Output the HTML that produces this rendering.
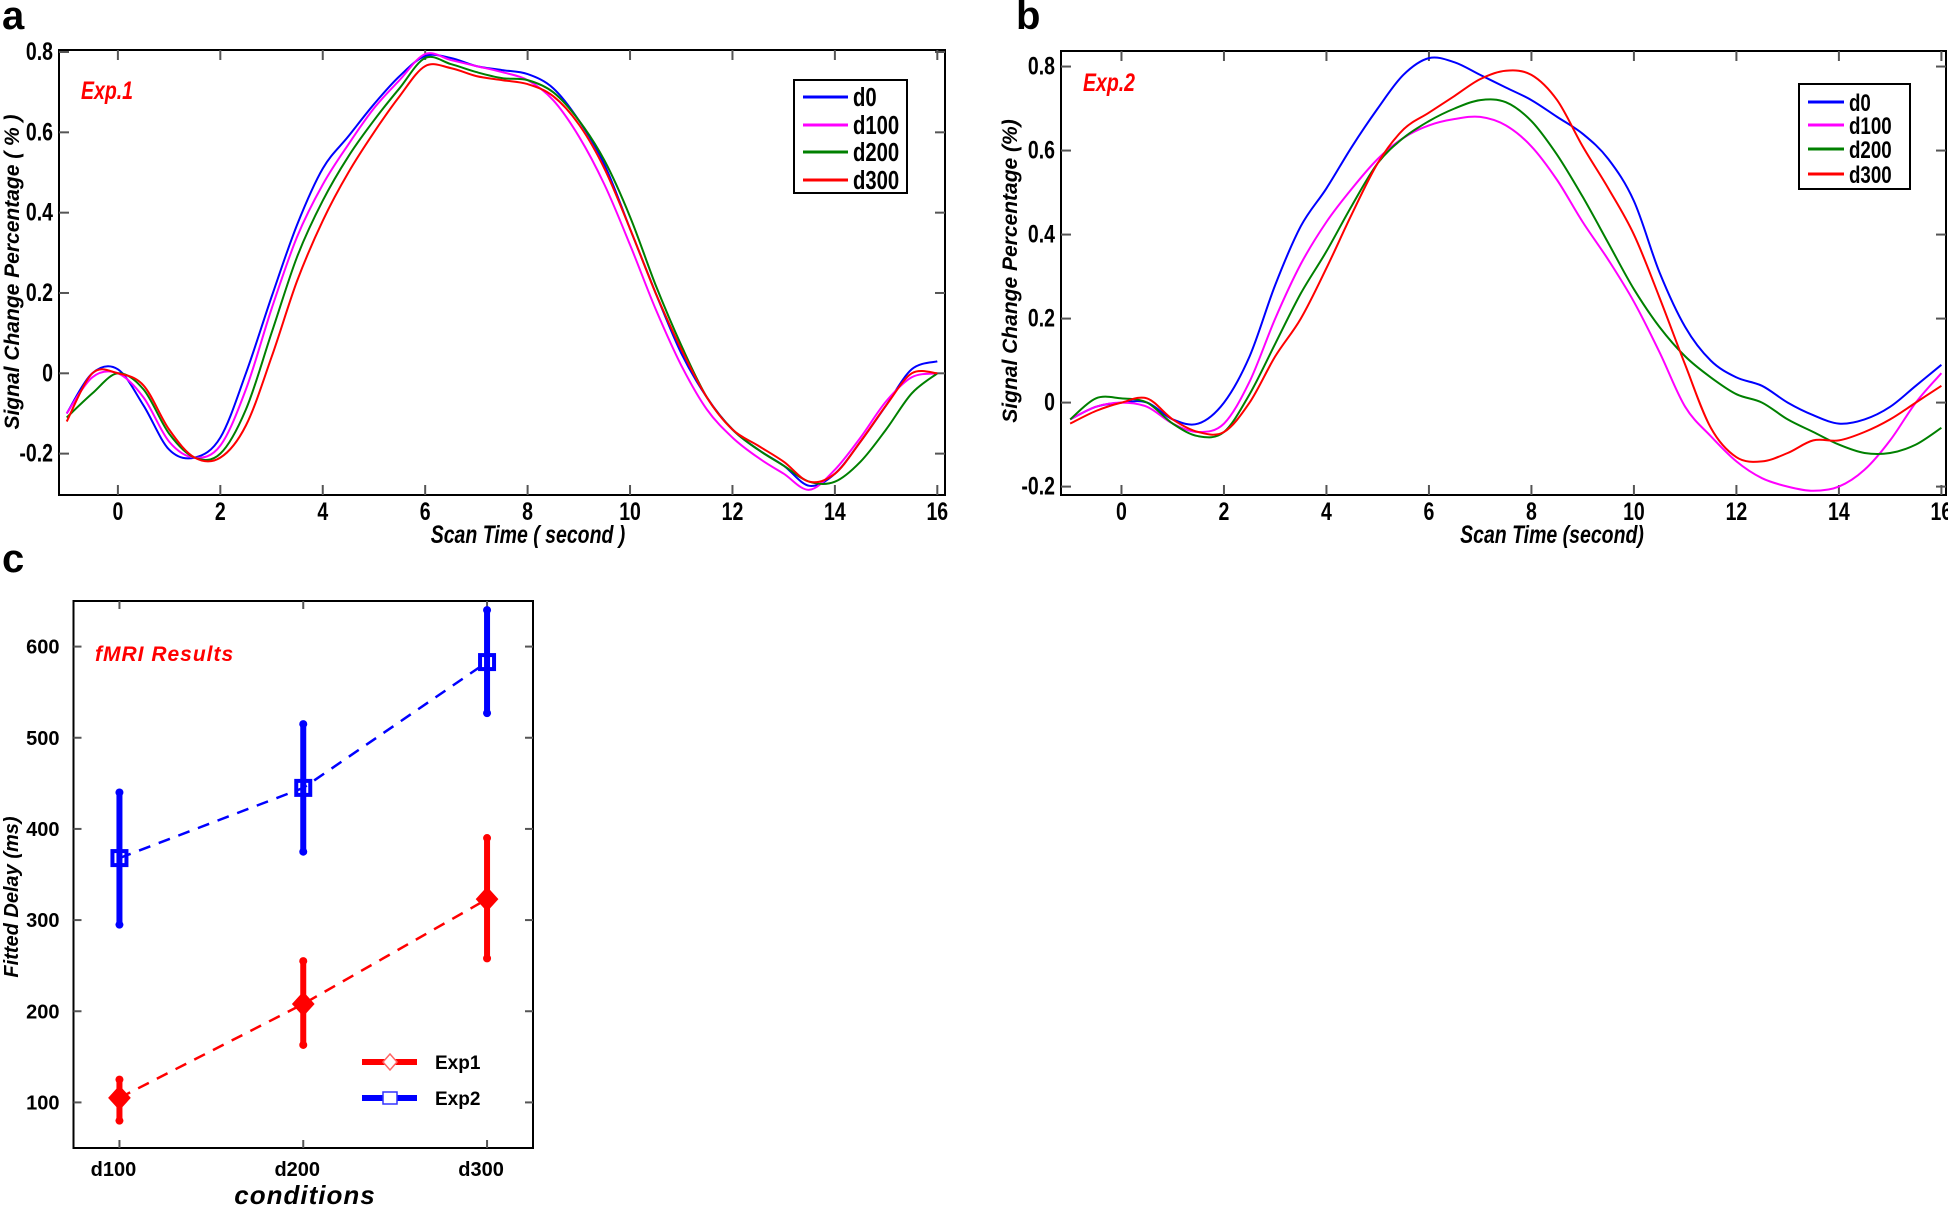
<!DOCTYPE html>
<html><head><meta charset="utf-8"><style>
html,body{margin:0;padding:0;background:#fff;}
svg{display:block;font-family:"Liberation Sans",sans-serif;}
</style></head><body>
<svg id="fig" width="1948" height="1205" viewBox="0 0 1948 1205"></svg>
<script>
const tA = [-1,-0.5,0,0.5,1,1.5,2,2.5,3,3.5,4,4.5,5,5.5,6,6.5,7,7.5,8,8.5,9,9.5,10,10.5,11,11.5,12,12.5,13,13.5,14,14.5,15,15.5,16];
const seriesNames = ['d0','d100','d200','d300'];
const seriesColors = ['#0000ff','#ff00ff','#008000','#ff0000'];
const a_d0 = [-0.1,0.0,0.01,-0.08,-0.19,-0.21,-0.16,0.0,0.19,0.37,0.51,0.59,0.67,0.74,0.79,0.785,0.765,0.755,0.745,0.71,0.63,0.52,0.36,0.2,0.05,-0.06,-0.14,-0.19,-0.23,-0.28,-0.25,-0.17,-0.08,0.01,0.03];
const a_d100 = [-0.1,-0.01,0.0,-0.06,-0.17,-0.21,-0.18,-0.04,0.16,0.34,0.47,0.57,0.66,0.73,0.795,0.78,0.765,0.75,0.73,0.68,0.59,0.47,0.32,0.16,0.02,-0.09,-0.16,-0.21,-0.25,-0.29,-0.24,-0.16,-0.07,-0.01,0.0];
const a_d200 = [-0.11,-0.05,0.0,-0.04,-0.15,-0.21,-0.2,-0.09,0.1,0.29,0.43,0.54,0.63,0.71,0.785,0.77,0.75,0.735,0.73,0.7,0.63,0.53,0.39,0.22,0.07,-0.06,-0.14,-0.19,-0.23,-0.27,-0.27,-0.22,-0.14,-0.05,0.0];
const a_d300 = [-0.12,0.0,0.0,-0.03,-0.14,-0.21,-0.21,-0.13,0.04,0.23,0.38,0.5,0.6,0.69,0.765,0.76,0.74,0.73,0.72,0.69,0.62,0.51,0.36,0.2,0.06,-0.06,-0.14,-0.18,-0.22,-0.27,-0.25,-0.17,-0.08,0.0,0.0];
const b_d0 = [-0.04,-0.01,0.0,0.0,-0.04,-0.05,0.0,0.11,0.28,0.42,0.51,0.61,0.7,0.78,0.82,0.81,0.78,0.75,0.72,0.68,0.64,0.58,0.48,0.31,0.18,0.1,0.06,0.04,0.0,-0.03,-0.05,-0.04,-0.01,0.04,0.09];
const b_d100 = [-0.04,-0.01,0.0,-0.01,-0.05,-0.07,-0.05,0.05,0.2,0.33,0.43,0.51,0.58,0.63,0.66,0.675,0.68,0.66,0.61,0.53,0.43,0.34,0.24,0.12,-0.01,-0.08,-0.14,-0.18,-0.2,-0.21,-0.2,-0.16,-0.09,0.0,0.07];
const b_d200 = [-0.04,0.01,0.01,0.0,-0.05,-0.08,-0.07,0.02,0.14,0.26,0.36,0.47,0.57,0.63,0.67,0.7,0.72,0.715,0.67,0.59,0.49,0.38,0.27,0.18,0.11,0.06,0.02,0.0,-0.04,-0.07,-0.1,-0.12,-0.12,-0.1,-0.06];
const b_d300 = [-0.05,-0.02,0.0,0.01,-0.04,-0.07,-0.07,0.0,0.11,0.2,0.32,0.45,0.57,0.65,0.69,0.73,0.77,0.79,0.78,0.72,0.61,0.51,0.4,0.25,0.09,-0.06,-0.13,-0.14,-0.12,-0.09,-0.09,-0.07,-0.04,0.0,0.04];
const xTicks = [0,2,4,6,8,10,12,14,16];
const aYTicks = [-0.2,0,0.2,0.4,0.6,0.8];
const aYLabels = ['-0.2','0','0.2','0.4','0.6','0.8'];
const cCats = ['d100','d200','d300'];
const cExp1 = [105,208,323];
const cExp1Lo = [80,163,258];
const cExp1Hi = [125,255,390];
const cExp2 = [368,445,583];
const cExp2Lo = [295,375,527];
const cExp2Hi = [440,515,640];
const cYTicks = [100,200,300,400,500,600];

const NS='http://www.w3.org/2000/svg';
const svg=document.getElementById('fig');
function el(tag,attrs,parent,text){const e=document.createElementNS(NS,tag);for(const k in attrs)e.setAttribute(k,attrs[k]);if(text!==undefined)e.textContent=text;(parent||svg).appendChild(e);return e;}
function ntext(x,y,attrs,parent,text){attrs=Object.assign({x:0,y:0,transform:'translate('+x+','+y+') scale(0.78,1)'},attrs);return el('text',attrs,parent,text);}
function lin(d0,d1,r0,r1){return v=>r0+(v-d0)/(d1-d0)*(r1-r0);}
function smooth(pts){let d='M'+pts[0][0].toFixed(1)+','+pts[0][1].toFixed(1);for(let i=0;i<pts.length-1;i++){const p0=pts[Math.max(0,i-1)],p1=pts[i],p2=pts[i+1],p3=pts[Math.min(pts.length-1,i+2)];const c1=[p1[0]+(p2[0]-p0[0])/6,p1[1]+(p2[1]-p0[1])/6],c2=[p2[0]-(p3[0]-p1[0])/6,p2[1]-(p3[1]-p1[1])/6];d+='C'+c1[0].toFixed(1)+','+c1[1].toFixed(1)+' '+c2[0].toFixed(1)+','+c2[1].toFixed(1)+' '+p2[0].toFixed(1)+','+p2[1].toFixed(1);}return d;}

function linePanel(o){
  const g=el('g',{});
  
  
  const X=lin(o.xmin,o.xmax,o.L,o.R), Y=lin(o.ymin,o.ymax,o.B,o.T);
  el('rect',{x:o.L,y:o.T,width:o.R-o.L,height:o.B-o.T,fill:'#fff',stroke:'#000','stroke-width':2},g);
  xTicks.forEach(t=>{const x=X(t);
    el('line',{x1:x,y1:o.B,x2:x,y2:o.B-10,stroke:'#555','stroke-width':2},g);
    el('line',{x1:x,y1:o.T,x2:x,y2:o.T+10,stroke:'#555','stroke-width':2},g);
    const tx=ntext(x,o.B+25,{'text-anchor':'middle','font-size':25,'font-weight':'bold'},g,String(t));
    
    
  });
  o.yTicks.forEach((t,i)=>{const y=Y(t);
    el('line',{x1:o.L,y1:y,x2:o.L+10,y2:y,stroke:'#555','stroke-width':2},g);
    el('line',{x1:o.R,y1:y,x2:o.R-10,y2:y,stroke:'#555','stroke-width':2},g);
    const tx=ntext(o.L-6,y+8,{'text-anchor':'end','font-size':25,'font-weight':'bold'},g,o.yLabels[i]);
    
    
  });
  o.series.forEach((s,i)=>{
    const p=el('path',{d:smooth(tA.map((t,j)=>[X(t),Y(s[j])])),fill:'none',stroke:seriesColors[i],'stroke-width':2},g);
    
    
  });
  const lg=el('g',{},g);
  
  
  el('rect',{x:o.lg[0],y:o.lg[1],width:o.lg[2],height:o.lg[3],fill:'#fff',stroke:'#000','stroke-width':2},lg);
  seriesNames.forEach((n,i)=>{const y=o.lgY[i];
    el('line',{x1:o.lg[0]+9,y1:y,x2:o.lg[0]+o.lgLine,y2:y,stroke:seriesColors[i],'stroke-width':3},lg);
    const tx=ntext(o.lg[0]+o.lgLine+5,y+9,{'font-size':o.lgFont,'font-weight':'bold'},lg,n);
    
    
  });
  const ti=ntext(o.exp[0],o.exp[1],{'font-size':25,'font-weight':'bold','font-style':'italic',fill:'#ff0000'},g,o.expText);
  
  
  const xl=ntext(o.xl[0],o.xl[1],{'text-anchor':'middle','font-size':25,'font-weight':'bold','font-style':'italic'},g,o.xlText);
  
  
  const yl=el('text',{x:0,y:0,'text-anchor':'middle','font-size':21,'font-weight':'bold','font-style':'italic',transform:'translate('+o.yl[0]+','+o.yl[1]+') rotate(-90)'},g,o.ylText);
  
  
  const pl=el('text',{x:o.pl[0],y:o.pl[1],'font-size':40,'font-weight':'bold'},g,o.plText);
  
  
}

linePanel({name:'panel-a',L:59,R:945,T:50,B:495,xmin:-1.15,xmax:16.15,ymin:-0.303,ymax:0.805,
  yTicks:aYTicks,yLabels:aYLabels,series:[a_d0,a_d100,a_d200,a_d300],
  lg:[794,80,113,113],lgY:[97,125,152,180],lgLine:54,lgFont:26,
  exp:[81,99],expText:'Exp.1',xl:[528,543],xlText:'Scan Time ( second )',yl:[19,272],ylText:'Signal Change Percentage ( % )',pl:[2,29],plText:'a'});
linePanel({name:'panel-b',L:1061,R:1946,T:51,B:495,xmin:-1.18,xmax:16.09,ymin:-0.22,ymax:0.837,
  yTicks:aYTicks,yLabels:aYLabels,series:[b_d0,b_d100,b_d200,b_d300],
  lg:[1799,84,111,105],lgY:[102,125,149,174],lgLine:45,lgFont:24,
  exp:[1083,91],expText:'Exp.2',xl:[1552,543],xlText:'Scan Time (second)',yl:[1017,271],ylText:'Signal Change Percentage (%)',pl:[1016,29],plText:'b'});

(function(){
  const g=el('g',{});
  
  
  const L=73.5,R=533,T=601,B=1148;
  const X=lin(0.75,3.25,L,R), Y=lin(50,650,B,T);
  el('rect',{x:L,y:T,width:R-L,height:B-T,fill:'#fff',stroke:'#000','stroke-width':2},g);
  cCats.forEach((c,i)=>{const x=X(i+1);
    el('line',{x1:x,y1:B,x2:x,y2:B-8,stroke:'#555','stroke-width':2},g);
    el('line',{x1:x,y1:T,x2:x,y2:T+8,stroke:'#555','stroke-width':2},g);
    const tx=el('text',{x:x-6,y:B+28,'text-anchor':'middle','font-size':20,'font-weight':'bold'},g,c);
    
    
  });
  cYTicks.forEach(v=>{const y=Y(v);
    el('line',{x1:L,y1:y,x2:L+8,y2:y,stroke:'#555','stroke-width':2},g);
    el('line',{x1:R,y1:y,x2:R-8,y2:y,stroke:'#555','stroke-width':2},g);
    const tx=el('text',{x:L-14,y:y+7,'text-anchor':'end','font-size':20,'font-weight':'bold'},g,String(v));
    
    
  });
  function series(vals,lo,hi,color,kind,name){
    const pts=vals.map((v,i)=>[X(i+1),Y(v)]);
    const ln=el('polyline',{points:pts.map(p=>p.join(',')).join(' '),fill:'none',stroke:color,'stroke-width':2.5,'stroke-dasharray':'12,9'},g);
    
    
    vals.forEach((v,i)=>{const x=X(i+1);
      const eb=el('line',{x1:x,y1:Y(lo[i]),x2:x,y2:Y(hi[i]),stroke:color,'stroke-width':6},g);
      
      
      el('circle',{cx:x,cy:Y(lo[i]),r:4,fill:color},g);
      el('circle',{cx:x,cy:Y(hi[i]),r:4,fill:color},g);
      const y=Y(v);let m;
      if(kind==='sq'){m=el('rect',{x:x-7,y:y-7,width:14,height:14,fill:'none',stroke:color,'stroke-width':4},g);}
      else{m=el('polygon',{points:`${x},${y-11} ${x+10},${y} ${x},${y+11} ${x-10},${y}`,fill:color,stroke:color,'stroke-width':2},g);}
      
      
    });
  }
  series(cExp2,cExp2Lo,cExp2Hi,'#0000ff','sq','exp2');
  series(cExp1,cExp1Lo,cExp1Hi,'#ff0000','dia','exp1');
  const lg=el('g',{},g);
  
  
  el('line',{x1:362,y1:1062,x2:417,y2:1062,stroke:'#ff0000','stroke-width':6},lg);
  el('polygon',{points:'390,1054 397,1062 390,1070 383,1062',fill:'#fff',stroke:'#ff6666','stroke-width':1.5},lg);
  const t1=el('text',{x:435,y:1069,'font-size':19,'font-weight':'bold'},lg,'Exp1');
  
  
  el('line',{x1:362,y1:1098,x2:417,y2:1098,stroke:'#0000ff','stroke-width':6},lg);
  el('rect',{x:383,y:1092,width:14,height:12,fill:'#fff',stroke:'#3333ff','stroke-width':1.5},lg);
  const t2=el('text',{x:435,y:1105,'font-size':19,'font-weight':'bold'},lg,'Exp2');
  
  
  const ti=el('text',{x:95,y:661,'font-size':21,'font-weight':'bold','font-style':'italic',fill:'#ff0000','letter-spacing':1},g,'fMRI Results');
  
  
  const xl=el('text',{x:305,y:1204,'text-anchor':'middle','font-size':26,'font-weight':'bold','font-style':'italic','letter-spacing':1},g,'conditions');
  
  
  const yl=el('text',{x:0,y:0,'text-anchor':'middle','font-size':20,'font-weight':'bold','font-style':'italic',transform:'translate(18,897) rotate(-90)'},g,'Fitted Delay (ms)');
  
  
  const pl=el('text',{x:2,y:572,'font-size':40,'font-weight':'bold'},g,'c');
  
  
})();
</script>
</body></html>
